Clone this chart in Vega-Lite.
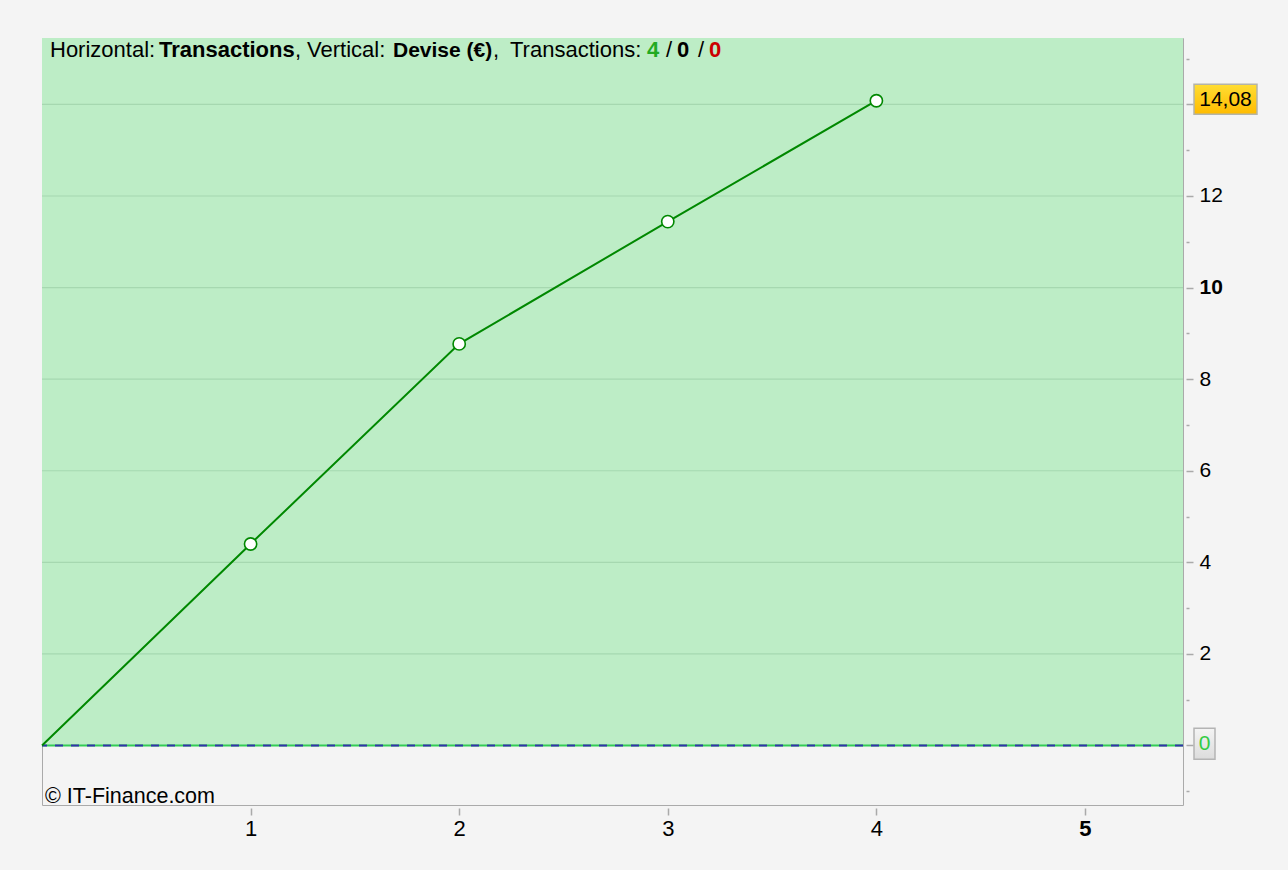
{
  "$schema": "https://vega.github.io/schema/vega-lite/v6.json",
  "width": 1141,
  "height": 767,
  "autosize": {"type": "none"},
  "padding": {"left": 42, "top": 38, "right": 105, "bottom": 65},
  "background": "#f4f4f4",
  "config": {
    "view": {"stroke": "#aaaaaa", "strokeWidth": 1, "fill": "#f4f4f4"},
    "font": "Liberation Sans"
  },
  "datasets": {
    "equity": [
      {"trade": 0, "value": 0},
      {"trade": 1, "value": 4.40},
      {"trade": 2, "value": 8.77},
      {"trade": 3, "value": 11.44},
      {"trade": 4, "value": 14.08}
    ],
    "region": [{"x0": 0, "x1": 5.47, "y0": 0, "y1": 15.45}],
    "grid": [{"v": 2}, {"v": 4}, {"v": 6}, {"v": 8}, {"v": 10}, {"v": 12}, {"v": 14}],
    "marker": [
      {"value": 14.08, "label": "14,08", "kind": "last"},
      {"value": 0, "label": "0", "kind": "zero"}
    ]
  },
  "layer": [
    {
      "data": {"name": "region"},
      "mark": {"type": "rect", "color": "#bdedc6"},
      "encoding": {
        "x": {
          "field": "x0", "type": "quantitative",
          "scale": {"domain": [0, 5.47], "nice": false, "zero": false},
          "axis": {
            "orient": "bottom", "values": [1, 2, 3, 4, 5], "offset": 3, "format": "d",
            "domain": false, "grid": false, "tickSize": 7, "tickWidth": 1.5,
            "tickColor": "#aaaaaa", "labelFontSize": 22, "labelColor": "#000000",
            "labelPadding": 3,
            "labelFontWeight": {"condition": {"test": "datum.value === 5", "value": "bold"}, "value": "normal"},
            "title": null
          }
        },
        "x2": {"field": "x1"},
        "y": {
          "field": "y0", "type": "quantitative",
          "scale": {"domain": [-1.3, 15.45], "nice": false, "zero": false},
          "axis": {
            "orient": "right",
            "values": [-1, 0, 1, 2, 3, 4, 5, 6, 7, 8, 9, 10, 11, 12, 13, 14, 15],
            "offset": 3, "domain": false, "grid": false, "tickSize": 7, "tickWidth": 1.5,
            "tickColor": "#aaaaaa", "format": "d",
            "tickDash": {"condition": {"test": "datum.value % 2 !== 0", "value": [3, 20]}, "value": [20, 0]},
            "labelExpr": "(datum.value >= 2 && datum.value <= 12 && datum.value % 2 === 0) ? datum.label : ''",
            "labelFontSize": 21, "labelColor": "#000000", "labelPadding": 6,
            "labelFontWeight": {"condition": {"test": "datum.value === 10", "value": "bold"}, "value": "normal"},
            "title": null
          }
        },
        "y2": {"field": "y1"}
      }
    },
    {
      "data": {"name": "grid"},
      "mark": {"type": "rule", "color": "#a6d8b0", "strokeWidth": 1.2},
      "encoding": {"y": {"field": "v", "type": "quantitative"}}
    },
    {
      "data": {"name": "region"},
      "mark": {"type": "rule", "color": "#33cc55", "strokeWidth": 2},
      "encoding": {"y": {"datum": 0, "type": "quantitative"}}
    },
    {
      "data": {"name": "region"},
      "mark": {"type": "rule", "color": "#3333aa", "strokeWidth": 2, "strokeDash": [8, 8]},
      "encoding": {"y": {"datum": 0, "type": "quantitative"}}
    },
    {
      "data": {"name": "equity"},
      "mark": {"type": "line", "color": "#008800", "strokeWidth": 2},
      "encoding": {
        "x": {"field": "trade", "type": "quantitative"},
        "y": {"field": "value", "type": "quantitative"}
      }
    },
    {
      "data": {"name": "equity"},
      "transform": [{"filter": "datum.trade > 0"}],
      "mark": {"type": "point", "filled": true, "fill": "#ffffff", "stroke": "#008800", "strokeWidth": 1.6, "size": 150, "opacity": 1},
      "encoding": {
        "x": {"field": "trade", "type": "quantitative"},
        "y": {"field": "value", "type": "quantitative"}
      }
    },
    {
      "data": {"name": "region"},
      "mark": {"type": "text", "text": "Horizontal:", "align": "left", "baseline": "alphabetic", "fontSize": 22, "dx": 8, "dy": 19, "color": "#000000"},
      "encoding": {"x": {"datum": 0, "type": "quantitative"}, "y": {"datum": 15.45, "type": "quantitative"}}
    },
    {
      "data": {"name": "region"},
      "mark": {"type": "text", "text": "Transactions", "align": "left", "baseline": "alphabetic", "fontSize": 22, "fontWeight": "bold", "dx": 117, "dy": 19, "color": "#000000"},
      "encoding": {"x": {"datum": 0, "type": "quantitative"}, "y": {"datum": 15.45, "type": "quantitative"}}
    },
    {
      "data": {"name": "region"},
      "mark": {"type": "text", "text": ",", "align": "left", "baseline": "alphabetic", "fontSize": 22, "dx": 253, "dy": 19, "color": "#000000"},
      "encoding": {"x": {"datum": 0, "type": "quantitative"}, "y": {"datum": 15.45, "type": "quantitative"}}
    },
    {
      "data": {"name": "region"},
      "mark": {"type": "text", "text": "Vertical:", "align": "left", "baseline": "alphabetic", "fontSize": 22, "dx": 265, "dy": 19, "color": "#000000"},
      "encoding": {"x": {"datum": 0, "type": "quantitative"}, "y": {"datum": 15.45, "type": "quantitative"}}
    },
    {
      "data": {"name": "region"},
      "mark": {"type": "text", "text": "Devise (€)", "align": "left", "baseline": "alphabetic", "fontSize": 21, "fontWeight": "bold", "dx": 351, "dy": 19, "color": "#000000"},
      "encoding": {"x": {"datum": 0, "type": "quantitative"}, "y": {"datum": 15.45, "type": "quantitative"}}
    },
    {
      "data": {"name": "region"},
      "mark": {"type": "text", "text": ",", "align": "left", "baseline": "alphabetic", "fontSize": 22, "dx": 451, "dy": 19, "color": "#000000"},
      "encoding": {"x": {"datum": 0, "type": "quantitative"}, "y": {"datum": 15.45, "type": "quantitative"}}
    },
    {
      "data": {"name": "region"},
      "mark": {"type": "text", "text": "Transactions:", "align": "left", "baseline": "alphabetic", "fontSize": 22, "dx": 468, "dy": 19, "color": "#000000"},
      "encoding": {"x": {"datum": 0, "type": "quantitative"}, "y": {"datum": 15.45, "type": "quantitative"}}
    },
    {
      "data": {"name": "region"},
      "mark": {"type": "text", "text": "4", "align": "left", "baseline": "alphabetic", "fontSize": 22, "fontWeight": "bold", "dx": 605, "dy": 19, "color": "#22aa22"},
      "encoding": {"x": {"datum": 0, "type": "quantitative"}, "y": {"datum": 15.45, "type": "quantitative"}}
    },
    {
      "data": {"name": "region"},
      "mark": {"type": "text", "text": "/", "align": "left", "baseline": "alphabetic", "fontSize": 22, "dx": 624, "dy": 19, "color": "#000000"},
      "encoding": {"x": {"datum": 0, "type": "quantitative"}, "y": {"datum": 15.45, "type": "quantitative"}}
    },
    {
      "data": {"name": "region"},
      "mark": {"type": "text", "text": "0", "align": "left", "baseline": "alphabetic", "fontSize": 22, "fontWeight": "bold", "dx": 635, "dy": 19, "color": "#000000"},
      "encoding": {"x": {"datum": 0, "type": "quantitative"}, "y": {"datum": 15.45, "type": "quantitative"}}
    },
    {
      "data": {"name": "region"},
      "mark": {"type": "text", "text": "/", "align": "left", "baseline": "alphabetic", "fontSize": 22, "dx": 656, "dy": 19, "color": "#000000"},
      "encoding": {"x": {"datum": 0, "type": "quantitative"}, "y": {"datum": 15.45, "type": "quantitative"}}
    },
    {
      "data": {"name": "region"},
      "mark": {"type": "text", "text": "0", "align": "left", "baseline": "alphabetic", "fontSize": 22, "fontWeight": "bold", "dx": 667, "dy": 19, "color": "#cc0000"},
      "encoding": {"x": {"datum": 0, "type": "quantitative"}, "y": {"datum": 15.45, "type": "quantitative"}}
    },
    {
      "data": {"name": "region"},
      "mark": {"type": "text", "text": "© IT-Finance.com", "align": "left", "baseline": "alphabetic", "fontSize": 21.5, "dx": 3, "dy": -2, "color": "#000000"},
      "encoding": {"x": {"datum": 0, "type": "quantitative"}, "y": {"datum": -1.3, "type": "quantitative"}}
    },
    {
      "data": {"name": "marker"},
      "transform": [{"filter": "datum.kind === 'last'"}],
      "mark": {
        "type": "point", "filled": true, "opacity": 1,
        "shape": "M-1,-0.476L1,-0.476L1,0.476L-1,0.476Z", "size": 3969,
        "fill": {"gradient": "linear", "x1": 0, "y1": 0, "x2": 0, "y2": 1,
          "stops": [{"offset": 0, "color": "#ffdd33"}, {"offset": 1, "color": "#ffbb00"}]},
        "stroke": "#b4b4a8", "strokeWidth": 1.5, "xOffset": 42.5, "yOffset": -1.5
      },
      "encoding": {"x": {"datum": 5.47, "type": "quantitative"}, "y": {"field": "value", "type": "quantitative"}}
    },
    {
      "data": {"name": "marker"},
      "transform": [{"filter": "datum.kind === 'last'"}],
      "mark": {"type": "text", "align": "center", "baseline": "middle", "fontSize": 21, "color": "#000000", "dx": 42.5, "dy": -1},
      "encoding": {"x": {"datum": 5.47, "type": "quantitative"}, "y": {"field": "value", "type": "quantitative"}, "text": {"field": "label"}}
    },
    {
      "data": {"name": "marker"},
      "transform": [{"filter": "datum.kind === 'zero'"}],
      "mark": {
        "type": "point", "filled": true, "opacity": 1,
        "shape": "M-1,-1.476L1,-1.476L1,1.476L-1,1.476Z", "size": 441,
        "fill": {"gradient": "linear", "x1": 0, "y1": 0, "x2": 0, "y2": 1,
          "stops": [{"offset": 0, "color": "#f4f4f4"}, {"offset": 1, "color": "#dcdcdc"}]},
        "stroke": "#b4b4b4", "strokeWidth": 1.5, "xOffset": 21.5, "yOffset": -1.8
      },
      "encoding": {"x": {"datum": 5.47, "type": "quantitative"}, "y": {"field": "value", "type": "quantitative"}}
    },
    {
      "data": {"name": "marker"},
      "transform": [{"filter": "datum.kind === 'zero'"}],
      "mark": {"type": "text", "align": "center", "baseline": "middle", "fontSize": 21, "color": "#33cc44", "dx": 21.5, "dy": -1.5},
      "encoding": {"x": {"datum": 5.47, "type": "quantitative"}, "y": {"field": "value", "type": "quantitative"}, "text": {"field": "label"}}
    }
  ]
}
